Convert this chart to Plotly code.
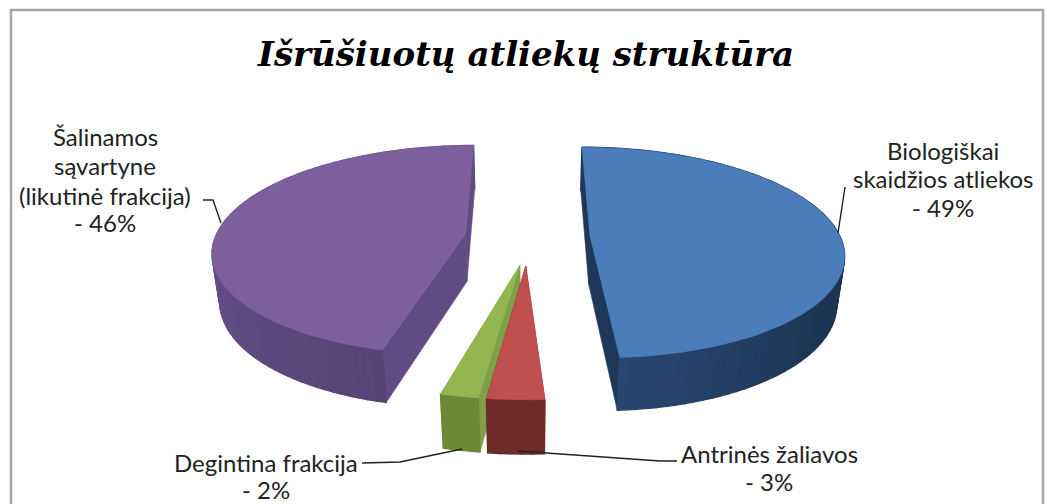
import math
import plotly.graph_objects as go

# ---- data ----
categories = ["Biologiškai skaidžios atliekos", "Antrinės žaliavos", "Degintina frakcija", "Šalinamos sąvartyne (likutinė frakcija)"]
values = [49, 3, 2, 46]
label_lines = [
    ["Biologiškai", "skaidžios atliekos", "- 49%"],
    ["Antrinės žaliavos", "- 3%"],
    ["Degintina frakcija", "- 2%"],
    ["Šalinamos", "sąvartyne", "(likutinė frakcija)", "- 46%"],
]
title_text = "Išrūšiuotų atliekų struktūra"

# ---- style / layout ----
top_colors = ["#4b7dba", "#c0504d", "#94b650", "#7d5f9e"]
side_colors = ["#1f3859", "#6e2a28", "#6a8a36", "#5f4a7f"]
inner_colors = ["#1f3859", "#6e2a28", "#7f9f48", "#604c82"]
label_pos = [
    [(943, 150), (943, 178), (943, 207)],
    [(769, 453), (769, 481)],
    [(266, 462), (266, 489)],
    [(105, 136), (105, 165), (105, 195), (105, 222)],
]
leaders = [
    [(845, 187), (838, 233)],
    [(518, 451), (660, 461), (677, 461)],
    [(462, 449), (400, 462), (362, 463)],
    [(203, 200), (213, 200), (221, 223)],
]
draw_order = [3, 0, 2, 1]
pulls = [0.245, 0.27, 0.27, 0.245]
nudges = [3, 2, 7, 0]
CY, R, RY, K, DEPTH, SHRINK = 237, 250, 103, 0.155, 49, 0.025
CX = 526
START = 0.0


def project(u, v, bottom=False, nudge=0):
    w = 1 - K * v + (SHRINK if bottom else 0)
    return CX + nudge + R * u / w, CY + (RY * v + (DEPTH if bottom else 0)) / w


def shade(hex_color, f):
    r, g, b = (int(hex_color[i:i + 2], 16) for i in (1, 3, 5))
    return "rgb(%d,%d,%d)" % (min(255, r * f), min(255, g * f), min(255, b * f))


def poly(fig, pts, color, lw=0.6):
    xs = [p[0] for p in pts] + [pts[0][0]]
    ys = [p[1] for p in pts] + [pts[0][1]]
    fig.add_trace(go.Scatter(x=xs, y=ys, mode="lines", fill="toself", fillcolor=color,
                             line=dict(color=color, width=lw), hoverinfo="skip", showlegend=False))


fig = go.Figure()
total = sum(values)
bounds = []
a = START
for val in values:
    bounds.append((a, a + val / total * 360))
    a += val / total * 360

for i in draw_order:
    a0, a1 = bounds[i]
    mid = math.radians((a0 + a1) / 2)
    ox, oy = pulls[i] * math.sin(mid), -pulls[i] * math.cos(mid)
    n = max(4, int((a1 - a0) / 2))
    nd = nudges[i]
    rim = []
    for j in range(n + 1):
        t = math.radians(a0 + (a1 - a0) * j / n)
        rim.append((ox + math.sin(t), oy - math.cos(t)))
    apex = (ox, oy)
    quads = []
    for p, c in ((rim[0], inner_colors[i]), (rim[-1], inner_colors[i])):
        quads.append(((apex[1] + p[1]) / 2,
                      [project(*apex, False, nd), project(*p, False, nd),
                       project(*p, True, nd), project(*apex, True, nd)], c, 0.6))
    for j in range(n):
        p, q = rim[j], rim[j + 1]
        frac = (j + 0.5) / n
        f = 1.0
        if i == 0:
            f = 0.95 + 0.32 * max(0, frac - 0.7) / 0.3 + 0.08 * max(0, 0.6 - frac) / 0.6
        if i == 3:
            f = 0.92 + 0.2 * min(1, frac / 0.5)
        quads.append(((p[1] + q[1]) / 2,
                      [project(*p, False, nd), project(*q, False, nd),
                       project(*q, True, nd), project(*p, True, nd)],
                      shade(side_colors[i], f), 1.4))
    quads.sort(key=lambda item: item[0])
    for _, pts, c, lw in quads:
        poly(fig, pts, c, lw)
    poly(fig, [project(*apex, False, nd)] + [project(*p, False, nd) for p in rim], top_colors[i])

for line in leaders:
    fig.add_trace(go.Scatter(x=[p[0] for p in line], y=[p[1] for p in line], mode="lines",
                             line=dict(color="#222222", width=1.4), hoverinfo="skip", showlegend=False))

annotations = [dict(x=525, y=54, text="<b><i>%s</i></b>" % title_text, showarrow=False, xref="x", yref="y",
                    font=dict(family="DejaVu Serif", size=34, color="#000000"))]
for lines, pos in zip(label_lines, label_pos):
    for txt, (x, y) in zip(lines, pos):
        annotations.append(dict(x=x, y=y, text=txt, showarrow=False, xref="x", yref="y",
                                font=dict(family="Lato", size=24, color="#222222")))

fig.update_layout(
    width=1047, height=504, margin=dict(l=0, r=0, t=0, b=0),
    paper_bgcolor="white", plot_bgcolor="white", showlegend=False,
    xaxis=dict(range=[0, 1047], visible=False, fixedrange=True),
    yaxis=dict(range=[504, 0], visible=False, fixedrange=True),
    annotations=annotations,
    shapes=[dict(type="rect", xref="x", yref="y", x0=11, y0=10, x1=1043, y1=530,
                 line=dict(color="#a6a6a6", width=2.5), layer="below")],
)
fig.write_html("out.html", config={"displayModeBar": False},
               post_script="document.body.style.margin='0';document.documentElement.style.overflow='hidden';")
